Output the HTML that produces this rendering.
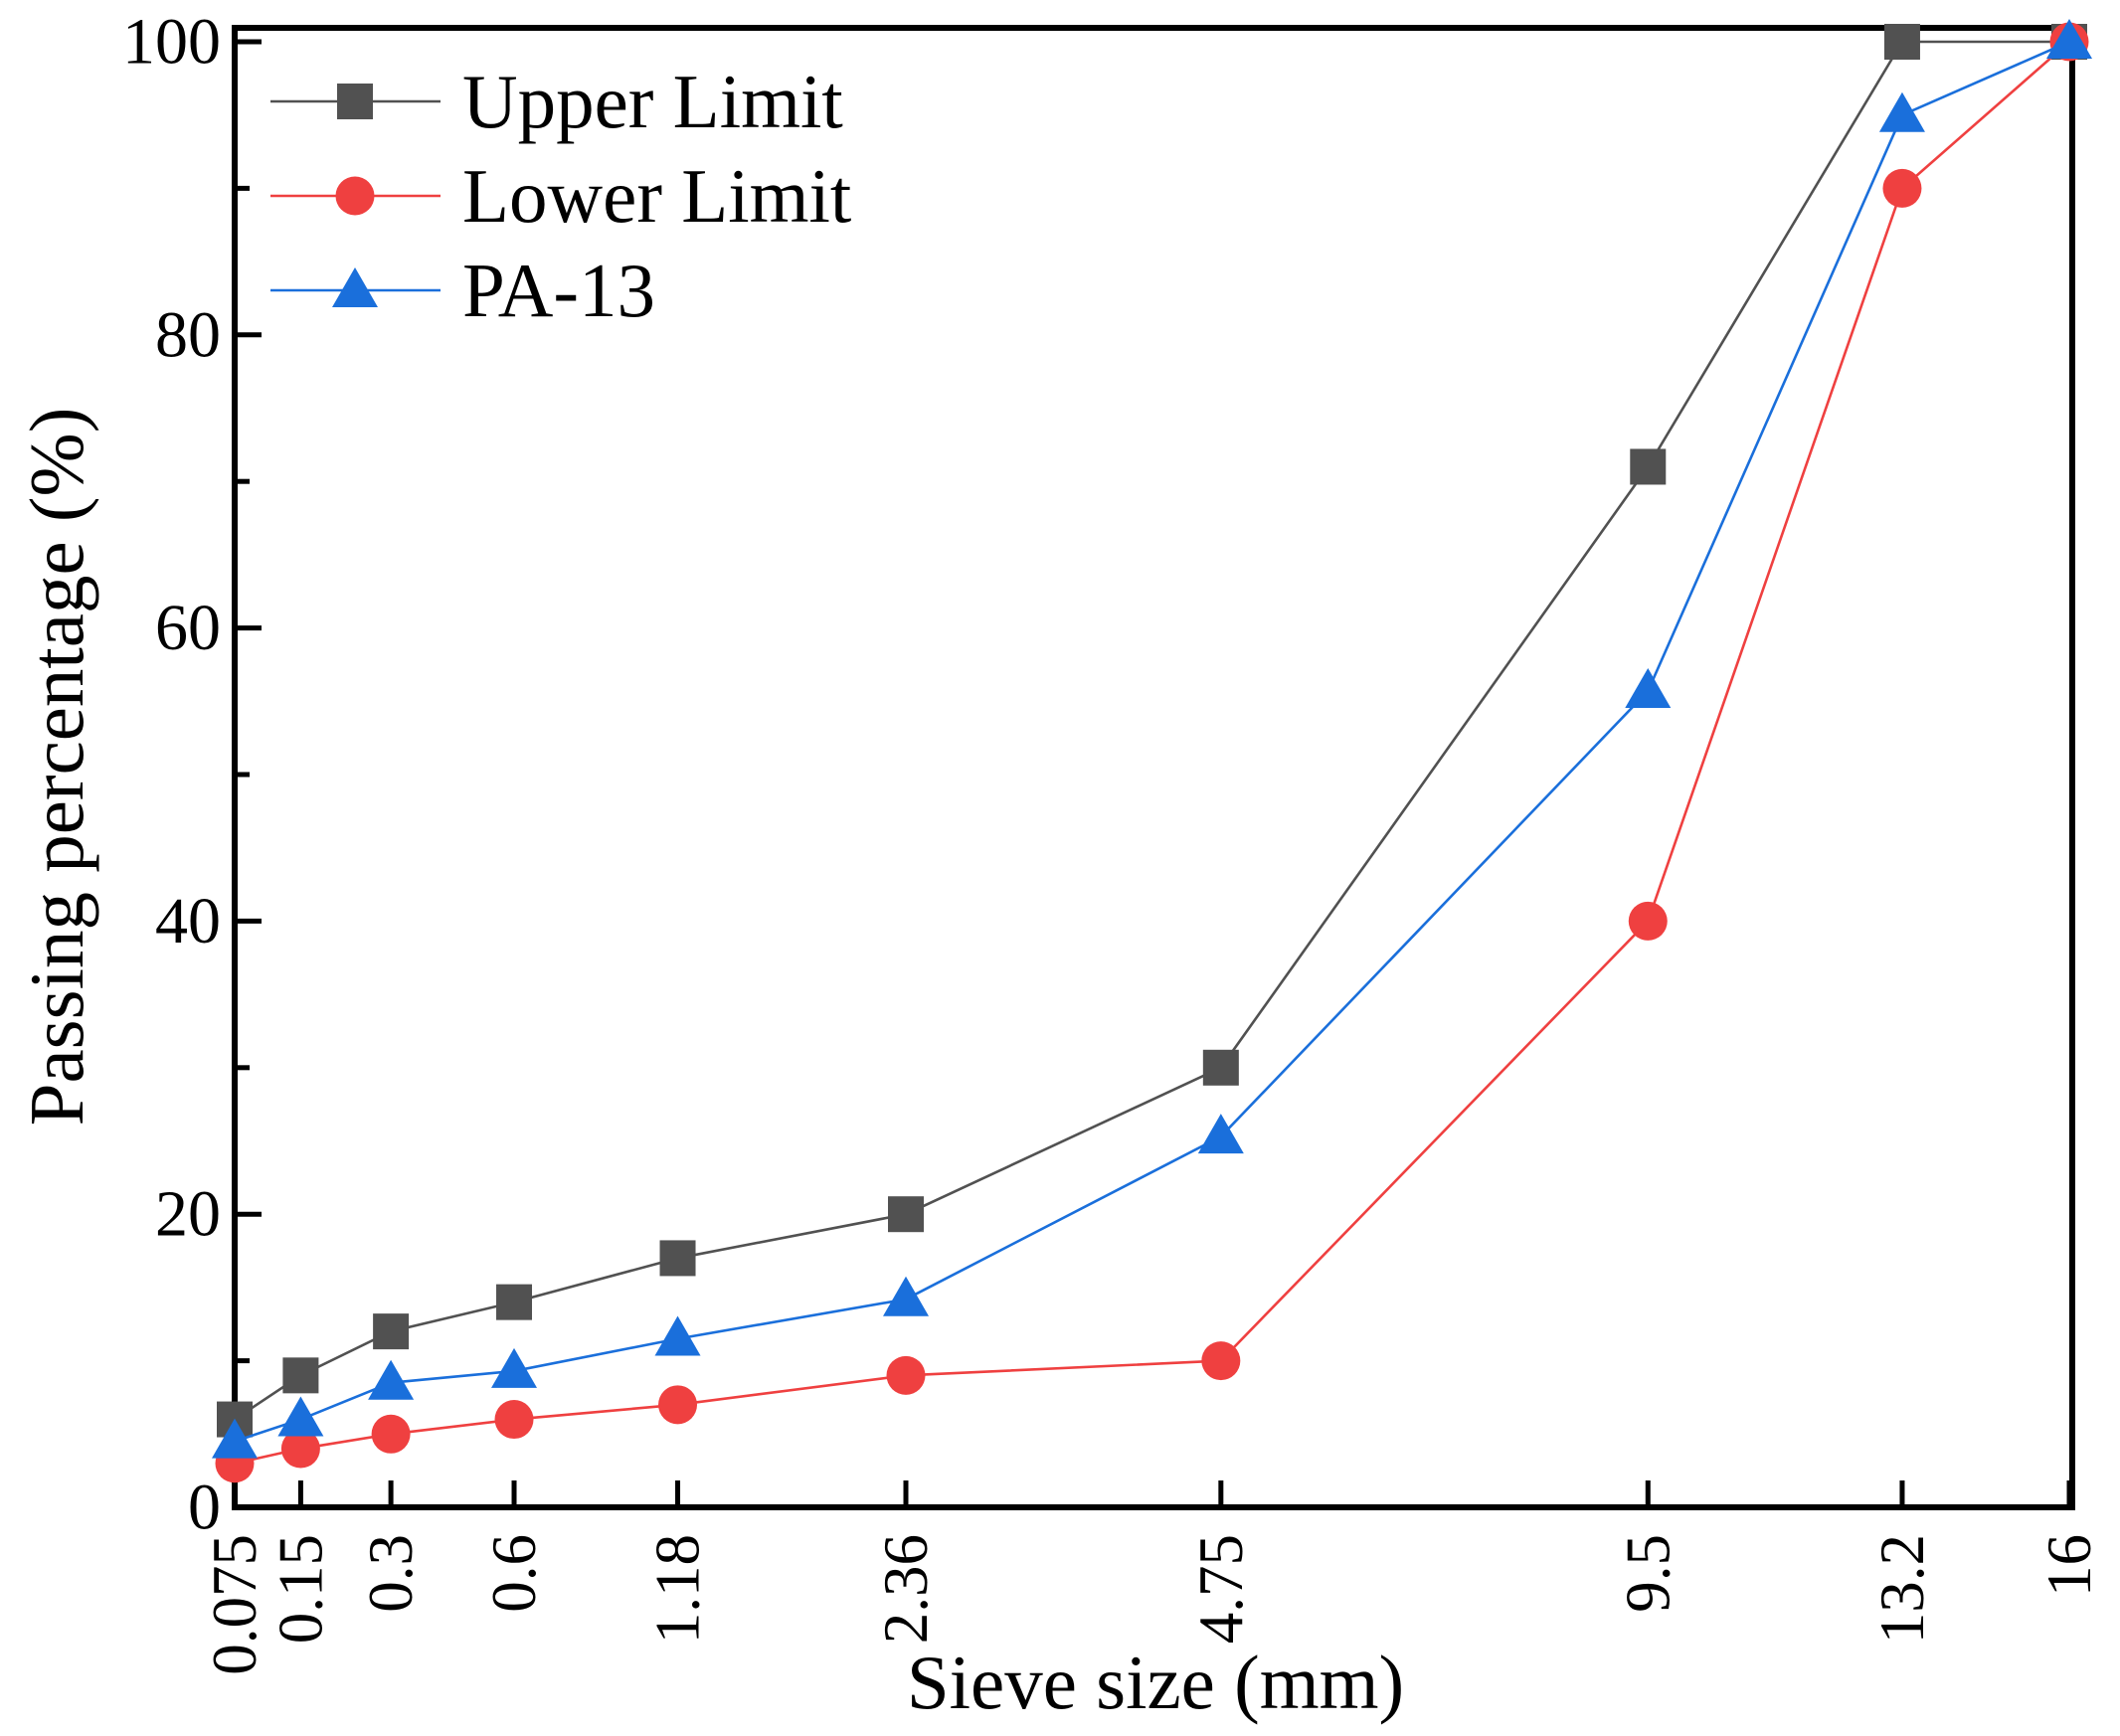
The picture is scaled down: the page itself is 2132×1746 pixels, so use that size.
<!DOCTYPE html>
<html><head><meta charset="utf-8"><style>
html,body{margin:0;padding:0;background:#fff;}
svg{display:block;font-family:"Liberation Serif",serif;}
</style></head><body>
<svg id="chart" width="2132" height="1746" viewBox="0 0 2132 1746"></svg>
<script>
const sieves = [0.075, 0.15, 0.3, 0.6, 1.18, 2.36, 4.75, 9.5, 13.2, 16];
const sieveLabels = ["0.075","0.15","0.3","0.6","1.18","2.36","4.75","9.5","13.2","16"];
const upperLimit = [6, 9, 12, 14, 17, 20, 30, 71, 100, 100];
const lowerLimit = [3, 4, 5, 6, 7, 9, 10, 40, 90, 100];
const pa13 = [4.5, 6, 8.5, 9.3, 11.5, 14.2, 25.3, 55.7, 95, 100];
const yTicks = [0, 20, 40, 60, 80, 100];
const yMinorTicks = [10, 30, 50, 70, 90];

const NS = "http://www.w3.org/2000/svg";
const svg = document.getElementById("chart");
const X0 = 236, X1 = 2081, Y0 = 1516, Y100 = 42;
const p = 0.45;
const xmin = Math.pow(0.075, p), xmax = Math.pow(16, p);
function xs(v){ return X0 + (Math.pow(v, p) - xmin) / (xmax - xmin) * (X1 - X0); }
function ys(v){ return Y0 + (Y100 - Y0) * v / 100; }
function mk(tag, attrs, parent){
  const e = document.createElementNS(NS, tag);
  for (const k in attrs) e.setAttribute(k, attrs[k]);
  (parent || svg).appendChild(e);
  return e;
}

sieves.forEach((s, i) => {
  const x = xs(s);
  const t = mk("line", {x1:x, x2:x, y1:1516, y2:1489, stroke:"#000", "stroke-width":5});
  
  
  const lb = mk("text", {x:0, y:0, "font-size":63, "text-anchor":"end", "dominant-baseline":"central",
    transform:`translate(${x},1543) rotate(-90)`});
  lb.textContent = sieveLabels[i];
  
  
});
yTicks.forEach(v => {
  const y = ys(v);
  const t = mk("line", {x1:236, x2:263, y1:y, y2:y, stroke:"#000", "stroke-width":5});
  
  
  const lb = mk("text", {x:222, y:y, "font-size":66, "text-anchor":"end", "dominant-baseline":"central"});
  lb.textContent = v;
  
  
});
yMinorTicks.forEach(v => {
  const y = ys(v);
  const t = mk("line", {x1:236, x2:251, y1:y, y2:y, stroke:"#000", "stroke-width":5});
  
  
});

const fr = mk("rect", {x:236, y:28, width:1848, height:1488, fill:"none", stroke:"#000", "stroke-width":6});



function marker(type, x, y, color, g){
  let e;
  if (type === "square") e = mk("rect", {x:x-18, y:y-18, width:36, height:36, fill:color}, g);
  else if (type === "circle") e = mk("circle", {cx:x, cy:y, r:19.5, fill:color}, g);
  else e = mk("polygon", {points:`${x},${y-23} ${x+23},${y+17} ${x-23},${y+17}`, fill:color}, g);
  return e;
}
function series(vals, color, type, name){
  const g = mk("g", {});
  
  
  const pts = vals.map((v, i) => xs(sieves[i]) + "," + ys(v)).join(" ");
  const l = mk("polyline", {points:pts, fill:"none", stroke:color, "stroke-width":2.6}, g);
  
  
  vals.forEach((v, i) => {
    const m = marker(type, xs(sieves[i]), ys(v), color, g);
    
    
  });
}
series(upperLimit, "#515151", "square", "upper-limit");
series(lowerLimit, "#ef4040", "circle", "lower-limit");
series(pa13, "#1a6fdb", "triangle", "pa-13");

const legend = [["Upper Limit", "#515151", "square", 102], ["Lower Limit", "#ef4040", "circle", 197], ["PA-13", "#1a6fdb", "triangle", 292]];
legend.forEach(([txt, c, t, y]) => {
  const g = mk("g", {});
  
  
  mk("line", {x1:272, x2:443, y1:y, y2:y, stroke:c, "stroke-width":2.6}, g);
  marker(t, 357, y, c, g);
  const tx = mk("text", {x:465, y:y, "font-size":77, "dominant-baseline":"central"}, g);
  tx.textContent = txt;
});

const xt = mk("text", {x:1162, y:1718, "font-size":77, "text-anchor":"middle"});
xt.textContent = "Sieve size (mm)";


const yt = mk("text", {x:0, y:0, "font-size":77, "text-anchor":"middle", "dominant-baseline":"central",
  transform:"translate(57,771) rotate(-90)"});
yt.textContent = "Passing percentage (%)";


</script>
</body></html>
